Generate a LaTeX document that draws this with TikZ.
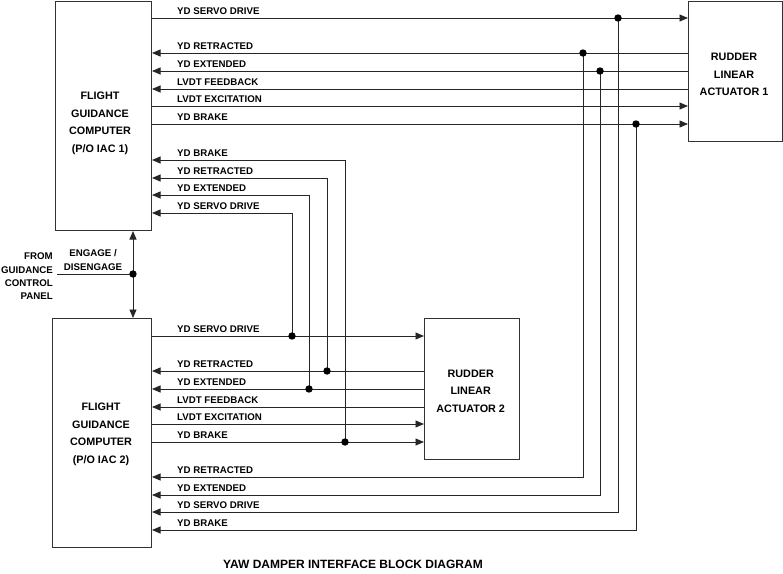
\documentclass[tikz,border=0pt]{standalone}
\usepackage{fontspec}
\setmainfont{Liberation Sans}
\usetikzlibrary{arrows.meta}
\begin{document}
\begin{tikzpicture}[x=1pt,y=-1pt,
  wire/.style={draw=black!85,line width=0.9pt},
  arr/.style={wire,-{Triangle[length=8.5pt,width=7pt]}},
  boxs/.style={draw=black!80,line width=1pt,inner sep=0pt,anchor=north west},
  lbl/.style={font=\bfseries\fontsize{9.7}{11}\selectfont,anchor=base west,inner sep=0pt},
  sidetxt/.style={font=\bfseries\fontsize{9.7}{13.3}\selectfont,inner sep=0pt},
  btxt/.style={font=\bfseries\fontsize{10.8}{17.5}\selectfont,align=center,inner sep=0pt},
  jdot/.style={fill=black}
]
\useasboundingbox (0,0) rectangle (783,573);

% boxes
\node[boxs,minimum width=96pt,minimum height=229pt] (fgc1) at (55,1) {};
\node[boxs,minimum width=99pt,minimum height=229pt] (fgc2) at (52,318) {};
\node[boxs,minimum width=94pt,minimum height=140pt] (rla1) at (688,1) {};
\node[boxs,minimum width=95pt,minimum height=141pt] (rla2) at (424,318) {};

\node[btxt] (t1) at (100,123.5) {FLIGHT\\GUIDANCE\\COMPUTER\\(P/O IAC 1)};
\node[btxt] (t2) at (101,434.4) {FLIGHT\\GUIDANCE\\COMPUTER\\(P/O IAC 2)};
\node[btxt] (t3) at (734,74.5) {RUDDER\\LINEAR\\ACTUATOR 1};
\node[btxt] (t4) at (470.7,391.2) {RUDDER\\LINEAR\\ACTUATOR 2};

% junctions
\coordinate (jA) at (618,18);
\coordinate (jB) at (583,53);
\coordinate (jC) at (600,71);
\coordinate (jD) at (636,124);
\coordinate (jE) at (292,336);
\coordinate (jF) at (327,371);
\coordinate (jG) at (309,389);
\coordinate (jH) at (345,442);
\coordinate (src) at (57,274);
\coordinate (jK) at (133,274);

% top section
\draw[arr] (fgc1.east |- 0,18) -- (rla1.west |- 0,18);
\draw[arr] (rla1.west |- 0,53) -- (fgc1.east |- 0,53);
\draw[arr] (rla1.west |- 0,71) -- (fgc1.east |- 0,71);
\draw[arr] (rla1.west |- 0,89) -- (fgc1.east |- 0,89);
\draw[arr] (fgc1.east |- 0,106) -- (rla1.west |- 0,106);
\draw[arr] (fgc1.east |- 0,124) -- (rla1.west |- 0,124);
\node[lbl] (l1) at (177,14) {YD SERVO DRIVE};
\node[lbl] (l2) at (177,49) {YD RETRACTED};
\node[lbl] (l3) at (177,67) {YD EXTENDED};
\node[lbl] (l4) at (177,85) {LVDT FEEDBACK};
\node[lbl] (l5) at (177,102) {LVDT EXCITATION};
\node[lbl] (l6) at (177,120) {YD BRAKE};

% from actuator 1 to FGC 2
\draw[arr] (jB) |- (fgc2.east |- 0,477);
\draw[arr] (jC) |- (fgc2.east |- 0,495);
\draw[arr] (jA) |- (fgc2.east |- 0,512);
\draw[arr] (jD) |- (fgc2.east |- 0,530);
\node[lbl] (l7) at (177,473) {YD RETRACTED};
\node[lbl] (l8) at (177,491) {YD EXTENDED};
\node[lbl] (l9) at (177,508) {YD SERVO DRIVE};
\node[lbl] (l10) at (177,526) {YD BRAKE};

% lower section
\draw[arr] (fgc2.east |- 0,336) -- (rla2.west |- 0,336);
\draw[arr] (rla2.west |- 0,371) -- (fgc2.east |- 0,371);
\draw[arr] (rla2.west |- 0,389) -- (fgc2.east |- 0,389);
\draw[arr] (rla2.west |- 0,407) -- (fgc2.east |- 0,407);
\draw[arr] (fgc2.east |- 0,424) -- (rla2.west |- 0,424);
\draw[arr] (fgc2.east |- 0,442) -- (rla2.west |- 0,442);
\node[lbl] (l11) at (177,332) {YD SERVO DRIVE};
\node[lbl] (l12) at (177,367) {YD RETRACTED};
\node[lbl] (l13) at (177,385) {YD EXTENDED};
\node[lbl] (l14) at (177,403) {LVDT FEEDBACK};
\node[lbl] (l15) at (177,420) {LVDT EXCITATION};
\node[lbl] (l16) at (177,438) {YD BRAKE};

% from actuator 2 to FGC 1
\draw[arr] (jH) |- (fgc1.east |- 0,160);
\draw[arr] (jF) |- (fgc1.east |- 0,178);
\draw[arr] (jG) |- (fgc1.east |- 0,195);
\draw[arr] (jE) |- (fgc1.east |- 0,213);
\node[lbl] (l17) at (177,156) {YD BRAKE};
\node[lbl] (l18) at (177,174) {YD RETRACTED};
\node[lbl] (l19) at (177,191) {YD EXTENDED};
\node[lbl] (l20) at (177,209) {YD SERVO DRIVE};

% engage / disengage
\draw[wire] (src) -- (jK);
\draw[arr] (jK) -- (fgc1.south -| jK);
\draw[arr] (jK) -- (fgc2.north -| jK);
\node[sidetxt,align=right,anchor=east] (from) at (53,276.5) {FROM\\GUIDANCE\\CONTROL\\PANEL};
\node[sidetxt,align=center] (eng) at (93,260) {ENGAGE /\\DISENGAGE};

% dots
\foreach \j in {jA,jB,jC,jD,jE,jF,jG,jH,jK} \fill[jdot] (\j) circle (3.7);

% title
\node[font=\bfseries\fontsize{12}{14}\selectfont,anchor=base,inner sep=0pt] (title) at (353,568) {YAW DAMPER INTERFACE BLOCK DIAGRAM};
\end{tikzpicture}
\end{document}
